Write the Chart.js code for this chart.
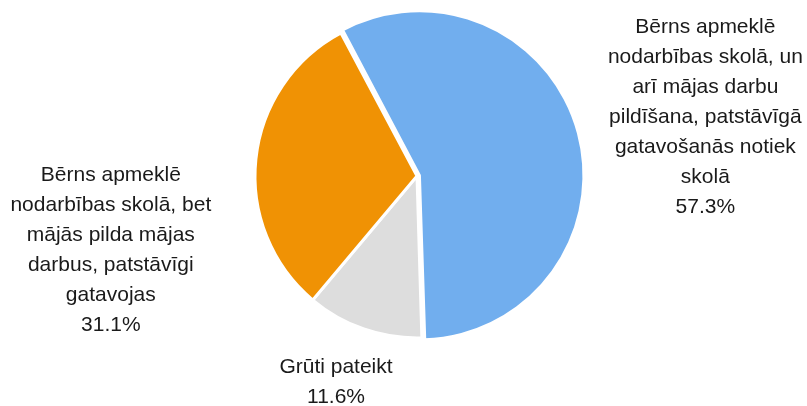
<!DOCTYPE html>
<html>
<head>
<meta charset="utf-8">
<script src="https://cdn.jsdelivr.net/npm/chart.js@4/dist/chart.umd.min.js"></script>
<style>
  html, body { margin: 0; padding: 0; background: #fff; }
  #wrap { width: 807px; height: 406px; }
</style>
</head>
<body>
<div id="wrap"><canvas id="pie" width="807" height="406"></canvas></div>
<script>
// Dati (Excel stila sektoru diagramma)
const categories = [
    ['Bērns apmeklē', 'nodarbības skolā, un', 'arī mājas darbu', 'pildīšana, patstāvīgā', 'gatavošanās notiek', 'skolā'],
    ['Grūti pateikt'],
    ['Bērns apmeklē', 'nodarbības skolā, bet', 'mājās pilda mājas', 'darbus, patstāvīgi', 'gatavojas']
];
const shares = [57.3, 11.6, 31.1];
const sliceColors = ['#71aeee', '#dddddd', '#f09204'];

// etiķešu novietojums, rādiusa vienībās no centra
const labelPos = [[1.78, -0.365], [-0.5, 1.275], [-1.89, 0.455]];

const labelsPlugin = {
    id: 'outsideLabels',
    afterDatasetsDraw(chart) {
        const ctx = chart.ctx;
        const meta = chart.getDatasetMeta(0);
        const lineH = 30;
        ctx.save();
        ctx.font = '21px "Liberation Sans", Arial, sans-serif';
        ctx.fillStyle = '#1a1a1a';
        ctx.textAlign = 'center';
        ctx.textBaseline = 'middle';
        meta.data.forEach((arc, i) => {
            const r = arc.outerRadius;
            const cx = arc.x + labelPos[i][0] * r;
            const cy = arc.y + labelPos[i][1] * r;
            const lines = categories[i].concat([shares[i].toFixed(1) + '%']);
            const top = cy - (lines.length - 1) * lineH / 2;
            lines.forEach((t, k) => ctx.fillText(t, cx, top + k * lineH));
        });
        ctx.restore();
    }
};

const chart = new Chart(document.getElementById('pie'), {
    type: 'pie',
    data: {
        labels: categories.map(c => c.join(' ')),
        datasets: [{
            data: shares,
            backgroundColor: sliceColors,
            borderColor: '#ffffff',
            borderWidth: 3,
            offset: [10, 0, 0],
            hoverOffset: 0
        }]
    },
    options: {
        responsive: false,
        animation: false,
        devicePixelRatio: 1,
        rotation: -28,
        layout: { padding: { top: 7.5, bottom: 61.5, left: 100, right: 73 } },
        plugins: {
            legend: { display: false },
            tooltip: { enabled: false }
        }
    },
    plugins: [labelsPlugin]
});
</script>
</body>
</html>
